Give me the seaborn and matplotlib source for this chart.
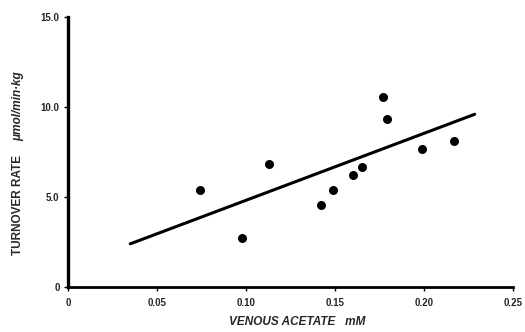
import matplotlib
matplotlib.use("Agg")
import matplotlib.pyplot as plt
import seaborn as sns
import pandas as pd

# datos
acetato = [0.074, 0.098, 0.113, 0.142, 0.149, 0.160, 0.165, 0.177, 0.179, 0.199, 0.217]
recambio = [5.4, 2.75, 6.85, 4.55, 5.4, 6.2, 6.65, 10.55, 9.35, 7.65, 8.1]

# recta de regresión dibujada en el original
recta_x = [0.035, 0.2285]
recta_y = [2.4, 9.6]

ticks_x = [0, 0.05, 0.10, 0.15, 0.20, 0.25]
etiquetas_x = ["0", "0.05", "0.10", "0.15", "0.20", "0.25"]
ticks_y = [0, 5, 10, 15]
etiquetas_y = ["0", "5.0", "10.0", "15.0"]

sns.set_style("white")
plt.rcParams["font.family"] = ["Liberation Sans", "DejaVu Sans"]

df = pd.DataFrame({"x": acetato, "y": recambio})
df_recta = pd.DataFrame({"x": recta_x, "y": recta_y})

fig = plt.figure(figsize=(5.25, 3.32), dpi=100)
ax = fig.add_axes([0.1295, 0.1355, 0.8476, 0.813])

sns.lineplot(data=df_recta, x="x", y="y", ax=ax, color="black", linewidth=2.2)
sns.scatterplot(data=df, x="x", y="y", ax=ax, color="black", s=42,
                edgecolor="black", linewidth=0, zorder=3)

ax.set_xlim(0, 0.25)
ax.set_ylim(0, 15)
ax.set_xticks(ticks_x)
ax.set_xticklabels(etiquetas_x, fontsize=7, fontweight="bold")
ax.set_yticks(ticks_y)
ax.set_yticklabels(etiquetas_y, fontsize=7, fontweight="bold")
ax.tick_params(axis="both", direction="out", length=3, width=1, color="black",
               bottom=True, left=True)
ax.tick_params(axis="x", pad=5)
ax.tick_params(axis="y", pad=3)

for lado in ["top", "right"]:
    ax.spines[lado].set_visible(False)
ax.spines["left"].set_linewidth(2.4)
ax.spines["bottom"].set_linewidth(2.0)
ax.spines["left"].set_color("black")
ax.spines["bottom"].set_color("black")

ax.set_xlabel("")
ax.set_ylabel("")

fig.text(0.566, 0.012, "VENOUS ACETATE   mM", ha="center", va="bottom",
         fontsize=8.5, fontweight="bold", style="italic")
fig.text(0.034, 0.383, "TURNOVER RATE", rotation=90, ha="center", va="center",
         fontsize=8.5, fontweight="bold")
fig.text(0.034, 0.68, "μmol/min·kg", rotation=90, ha="center", va="center",
         fontsize=8.5, fontweight="bold", style="italic")

fig.savefig("out.png", dpi=100)
plt.close(fig)
